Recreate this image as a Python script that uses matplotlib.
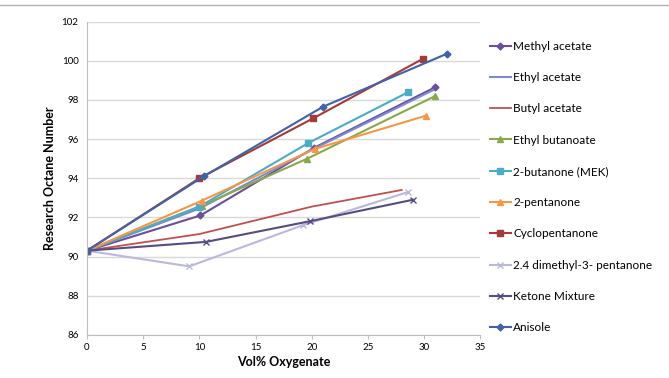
import numpy as np
import matplotlib.pyplot as plt
from matplotlib.lines import Line2D

plt.rcParams['font.family'] = ['Lato', 'DejaVu Sans']

# data (vol% oxygenate, RON)
methyl_x = [0, 10.1, 20.2, 31.0]
methyl_y = [90.3, 92.1, 95.55, 98.65]
ethyl_x = [0, 10.0, 20.0, 30.8]
ethyl_y = [90.3, 92.45, 95.45, 98.5]
butyl_x = [0, 10.0, 20.0, 28.0]
butyl_y = [90.3, 91.15, 92.55, 93.4]
etbut_x = [0, 10.2, 19.6, 31.0]
etbut_y = [90.3, 92.6, 95.0, 98.2]
mek_x = [0, 10.0, 19.7, 28.6]
mek_y = [90.3, 92.55, 95.8, 98.4]
pent_x = [0, 10.2, 20.3, 30.2]
pent_y = [90.3, 92.85, 95.5, 97.2]
cyclo_x = [0, 10.0, 20.1, 29.9]
cyclo_y = [90.3, 94.0, 97.05, 100.1]
dimeth_x = [0, 9.1, 19.2, 28.6]
dimeth_y = [90.3, 89.5, 91.6, 93.3]
ketmix_x = [0, 10.6, 19.8, 29.0]
ketmix_y = [90.3, 90.75, 91.8, 92.9]
anis_x = [0, 10.4, 21.0, 32.0]
anis_y = [90.3, 94.1, 97.65, 100.35]

fig = plt.figure(figsize=(6.69, 3.78), dpi=100)
ax = fig.add_axes([0.130, 0.114, 0.588, 0.829])

ax.plot(methyl_x, methyl_y, color='#6a4f9c', marker='D', ms=3.5, lw=1.5, label='Methyl acetate')
ax.plot(ethyl_x, ethyl_y, color='#7b8bd2', lw=1.5, label='Ethyl acetate')
ax.plot(butyl_x, butyl_y, color='#c0504d', lw=1.3, label='Butyl acetate')
ax.plot(etbut_x, etbut_y, color='#8aa84a', marker='^', ms=4.5, lw=1.5, label='Ethyl butanoate')
ax.plot(mek_x, mek_y, color='#4bacc6', marker='s', ms=4.5, lw=1.5, label='2-butanone (MEK)')
ax.plot(pent_x, pent_y, color='#f79646', marker='^', ms=4.5, lw=1.5, label='2-pentanone')
ax.plot(cyclo_x, cyclo_y, color='#a63a3a', marker='s', ms=4.5, lw=1.5, label='Cyclopentanone')
ax.plot(dimeth_x, dimeth_y, color='#b9b9de', marker='x', ms=4.5, lw=1.5, label='2.4 dimethyl-3- pentanone')
ax.plot(ketmix_x, ketmix_y, color='#574c82', marker='x', ms=4.5, lw=1.5, label='Ketone Mixture')
ax.plot(anis_x, anis_y, color='#3f62a8', marker='D', ms=3.5, lw=1.5, label='Anisole')

ax.set_xlim(0, 35)
ax.set_ylim(86, 102)
ax.set_xticks(np.arange(0, 36, 5))
ax.set_yticks(np.arange(86, 103, 2))
ax.yaxis.grid(True, color='#d9d9d9', lw=1)
ax.set_axisbelow(True)
for s in ['top', 'right']:
    ax.spines[s].set_visible(False)
ax.spines['left'].set_color('#bfbfbf')
ax.spines['bottom'].set_color('#bfbfbf')
ax.tick_params(axis='y', length=0, labelsize=7, pad=6)
ax.tick_params(axis='x', length=3, color='#bfbfbf', labelsize=7, pad=3)
ax.set_xlabel('Vol% Oxygenate', fontsize=9, fontweight='bold', labelpad=3)
ax.set_ylabel('Research Octane Number', fontsize=9, fontweight='bold', labelpad=4)

fig.legend(loc='upper left', bbox_to_anchor=(0.725, 0.905), frameon=False,
           fontsize=8.5, labelspacing=1.72, handlelength=1.8, handletextpad=0.2,
           borderaxespad=0)

fig.add_artist(Line2D([0, 1], [0.987, 0.987], color='#b0b0b0', lw=1))

fig.savefig('out.png', dpi=100)
